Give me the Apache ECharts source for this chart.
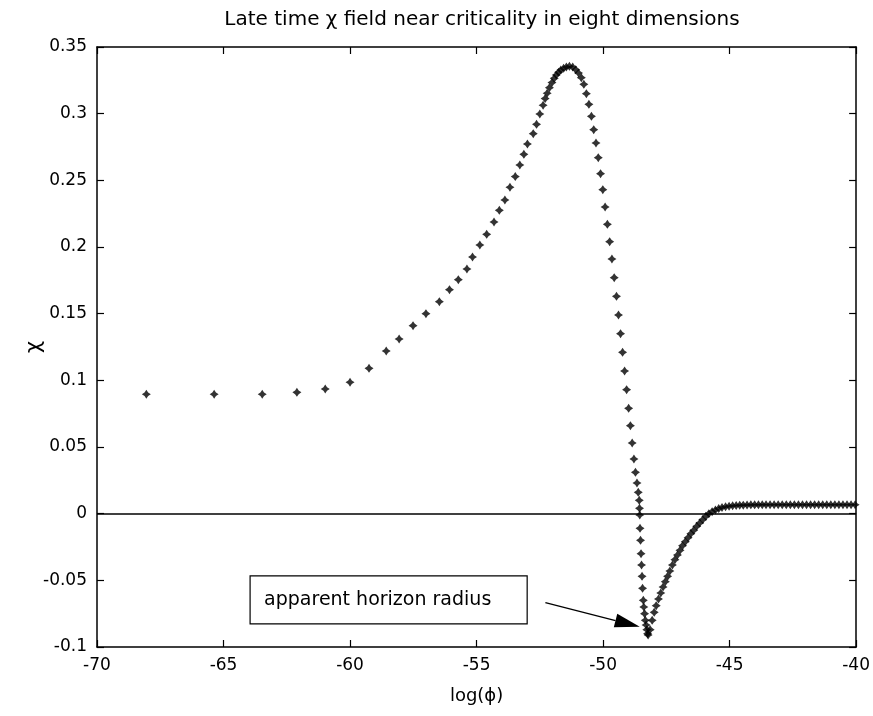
<!DOCTYPE html>
<html>
<head>
<meta charset="utf-8">
<script src="https://cdn.jsdelivr.net/npm/echarts@6/dist/echarts.min.js"></script>
<style>
  html, body { margin: 0; padding: 0; background: #fff; }
  #chart { width: 873px; height: 716px; }
</style>
</head>
<body>
<div id="chart"></div>
<script>
// log(phi) positions of the late-time samples
const logPhi = [
  -68.05, -65.37, -63.47, -62.10, -60.98, -60.00, -59.25, -58.57, -58.06, -57.51,
  -57.00, -56.47, -56.07, -55.72, -55.38, -55.16, -54.87, -54.60, -54.31, -54.10,
  -53.88, -53.68, -53.47, -53.29, -53.13, -52.99, -52.76, -52.63, -52.50, -52.37,
  -52.29, -52.21, -52.12, -52.02, -51.93, -51.85, -51.76, -51.67, -51.56, -51.45,
  -51.33, -51.20, -51.08, -50.97,
  -50.86, -50.76, -50.66, -50.56, -50.46, -50.37, -50.28, -50.19, -50.10, -50.01,
  -49.92, -49.83, -49.74, -49.65, -49.56, -49.47, -49.39, -49.31, -49.23, -49.15,
  -49.07, -48.99, -48.92, -48.85, -48.78, -48.72, -48.66, -48.61, -48.57,
  -48.56, -48.55, -48.54, -48.52, -48.50, -48.48, -48.46, -48.44, -48.41, -48.39,
  -48.36, -48.33, -48.30, -48.27, -48.24, -48.22,
  -48.14, -48.06, -47.98, -47.90, -47.81, -47.72, -47.63, -47.54, -47.45, -47.36,
  -47.26, -47.16, -47.06, -46.96, -46.86, -46.75, -46.64, -46.53, -46.42, -46.30,
  -46.18, -46.06, -45.94, -45.82, -45.69, -45.56, -45.43, -45.30, -45.16, -45.02,
  -44.88, -44.74, -44.60, -44.46, -44.31, -44.16, -44.01, -43.86, -43.71, -43.56,
  -43.40, -43.24, -43.08, -42.92, -42.76, -42.60, -42.44, -42.28, -42.12, -41.96,
  -41.80, -41.64, -41.48, -41.32, -41.16, -41.00, -40.84, -40.68, -40.52, -40.36,
  -40.20, -40.04
];

// chi field value at each sample
const chi = [
  0.0896, 0.0896, 0.0896, 0.0910, 0.0935, 0.0986, 0.1090, 0.1220, 0.1310, 0.1410,
  0.1500, 0.1590, 0.1680, 0.1755, 0.1835, 0.1925, 0.2015, 0.2095, 0.2188, 0.2275,
  0.2353, 0.2448, 0.2528, 0.2615, 0.2695, 0.2773, 0.2850, 0.2920, 0.2998, 0.3063,
  0.3113, 0.3153, 0.3195, 0.3233, 0.3265, 0.3290, 0.3310, 0.3328, 0.3340, 0.3350,
  0.3355, 0.3350, 0.3330, 0.3305,
  0.3270, 0.3220, 0.3150, 0.3070, 0.2980, 0.2880, 0.2780, 0.2670, 0.2550, 0.2430,
  0.2300, 0.2170, 0.2040, 0.1910, 0.1770, 0.1630, 0.1490, 0.1350, 0.1210, 0.1070,
  0.0930, 0.0790, 0.0660, 0.0530, 0.0410, 0.0310, 0.0230, 0.0160, 0.0100,
  0.0040, -0.0010, -0.0110, -0.0200, -0.0300, -0.0385, -0.0470, -0.0560, -0.0650, -0.0700,
  -0.0750, -0.0800, -0.0835, -0.0870, -0.0900, -0.0910,
  -0.0870, -0.0800, -0.0740, -0.0690, -0.0640, -0.0595, -0.0550, -0.0510, -0.0470, -0.0430,
  -0.0385, -0.0345, -0.0310, -0.0275, -0.0240, -0.0210, -0.0180, -0.0150, -0.0125, -0.0095,
  -0.0070, -0.0045, -0.0020, 0.0000, 0.0015, 0.0028, 0.0038, 0.0046, 0.0052, 0.0056,
  0.0059, 0.0061, 0.0063, 0.0064, 0.0065, 0.0066, 0.0066, 0.0067, 0.0067, 0.0067,
  0.0067, 0.0067, 0.0067, 0.0067, 0.0067, 0.0067, 0.0067, 0.0067, 0.0067, 0.0067,
  0.0067, 0.0067, 0.0067, 0.0067, 0.0067, 0.0067, 0.0067, 0.0067, 0.0067, 0.0067,
  0.0067, 0.0067
];

const xRange = [-70, -40];
const xStep = 5;
const yRange = [-0.1, 0.35];
const yStep = 0.05;

const titleText = 'Late time \u03C7 field near criticality in eight dimensions';
const xName = 'log(\u03D5)';
const yName = '\u03C7';
const noteText = 'apparent horizon radius';

// annotation box corners and arrow, in data units
const noteBox = [[-63.95, -0.0467], [-53.0, -0.0827]];
const arrowFrom = [-52.28, -0.0668];
const arrowTo = [-48.55, -0.0848];

const FONT = 'DejaVu Sans';
const GRID = { left: 97, right: 12, top: 47, bottom: 69 };

const chart = echarts.init(document.getElementById('chart'), null, { renderer: 'canvas' });

const points = logPhi.map((x, i) => [x, chi[i]]);

// MATLAB-like asterisk marker
const star = 'path://M0,-10 L4,-4 L10,0 L4,4 L0,10 L-4,4 L-10,0 L-4,-4 Z';

const axisCommon = {
  type: 'value',
  axisLine: { show: true, onZero: false, lineStyle: { color: '#000', width: 1.5 } },
  axisTick: { show: true, inside: true, length: 7, lineStyle: { color: '#000', width: 1.2 } },
  splitLine: { show: false },
  axisLabel: { color: '#000', fontFamily: FONT, fontSize: 17 }
};

chart.setOption({
  animation: false,
  backgroundColor: '#fff',
  grid: GRID,
  xAxis: [
    Object.assign({}, axisCommon, {
      min: xRange[0], max: xRange[1], interval: xStep, position: 'bottom',
      axisLabel: Object.assign({}, axisCommon.axisLabel, { margin: 10 }),
      name: xName, nameLocation: 'middle', nameGap: 40, nameMoveOverlap: false,
      nameTextStyle: { color: '#000', fontFamily: FONT, fontSize: 18 }
    }),
    Object.assign({}, axisCommon, {
      min: xRange[0], max: xRange[1], interval: xStep, position: 'top',
      axisLabel: { show: false }
    })
  ],
  yAxis: [
    Object.assign({}, axisCommon, {
      min: yRange[0], max: yRange[1], interval: yStep, position: 'left',
      axisLabel: Object.assign({}, axisCommon.axisLabel, { margin: 10 }),
      name: yName, nameLocation: 'middle', nameGap: 52, nameRotate: 90, nameMoveOverlap: false,
      nameTextStyle: { color: '#000', fontFamily: FONT, fontSize: 21 }
    }),
    Object.assign({}, axisCommon, {
      min: yRange[0], max: yRange[1], interval: yStep, position: 'right',
      axisLabel: { show: false }
    })
  ],
  series: [{
    type: 'scatter',
    data: points,
    symbol: star,
    symbolSize: 9,
    itemStyle: { color: '#000' },
    markLine: {
      silent: true,
      symbol: ['none', 'none'],
      label: { show: false },
      lineStyle: { color: '#000', width: 1.5, type: 'solid' },
      data: [{ yAxis: 0 }]
    },
    z: 3
  }]
});

function drawOverlay() {
  const p = (v) => chart.convertToPixel({ xAxisIndex: 0, yAxisIndex: 0 }, v);
  const b0 = p(noteBox[0]);
  const b1 = p(noteBox[1]);
  const a0 = p(arrowFrom);
  const a1 = p(arrowTo);
  const ang = Math.atan2(a1[1] - a0[1], a1[0] - a0[0]);
  const headLen = 25, headHalf = 7;
  const base = [a1[0] - headLen * Math.cos(ang), a1[1] - headLen * Math.sin(ang)];
  const nx = -Math.sin(ang), ny = Math.cos(ang);
  const plotCenterX = GRID.left + (873 - GRID.left - GRID.right) / 2;

  chart.setOption({
    graphic: [
      {
        type: 'text', x: plotCenterX + 3, y: 20,
        style: {
          text: titleText, fill: '#000', font: '20px "' + FONT + '"',
          textAlign: 'center', textVerticalAlign: 'middle'
        }
      },
      {
        type: 'rect',
        shape: { x: b0[0], y: b0[1], width: b1[0] - b0[0], height: b1[1] - b0[1] },
        style: { fill: '#fff', stroke: '#000', lineWidth: 1.2 },
        z: 10
      },
      {
        type: 'text', x: b0[0] + 14, y: (b0[1] + b1[1]) / 2,
        style: { text: noteText, fill: '#000', font: '19px "' + FONT + '"', textVerticalAlign: 'middle' },
        z: 11
      },
      {
        type: 'line',
        shape: { x1: a0[0], y1: a0[1], x2: base[0], y2: base[1] },
        style: { stroke: '#000', lineWidth: 1.3 },
        z: 10
      },
      {
        type: 'polygon',
        shape: { points: [a1, [base[0] + nx * headHalf, base[1] + ny * headHalf], [base[0] - nx * headHalf, base[1] - ny * headHalf]] },
        style: { fill: '#000' },
        z: 10
      }
    ]
  });
}
drawOverlay();
</script>
</body>
</html>
